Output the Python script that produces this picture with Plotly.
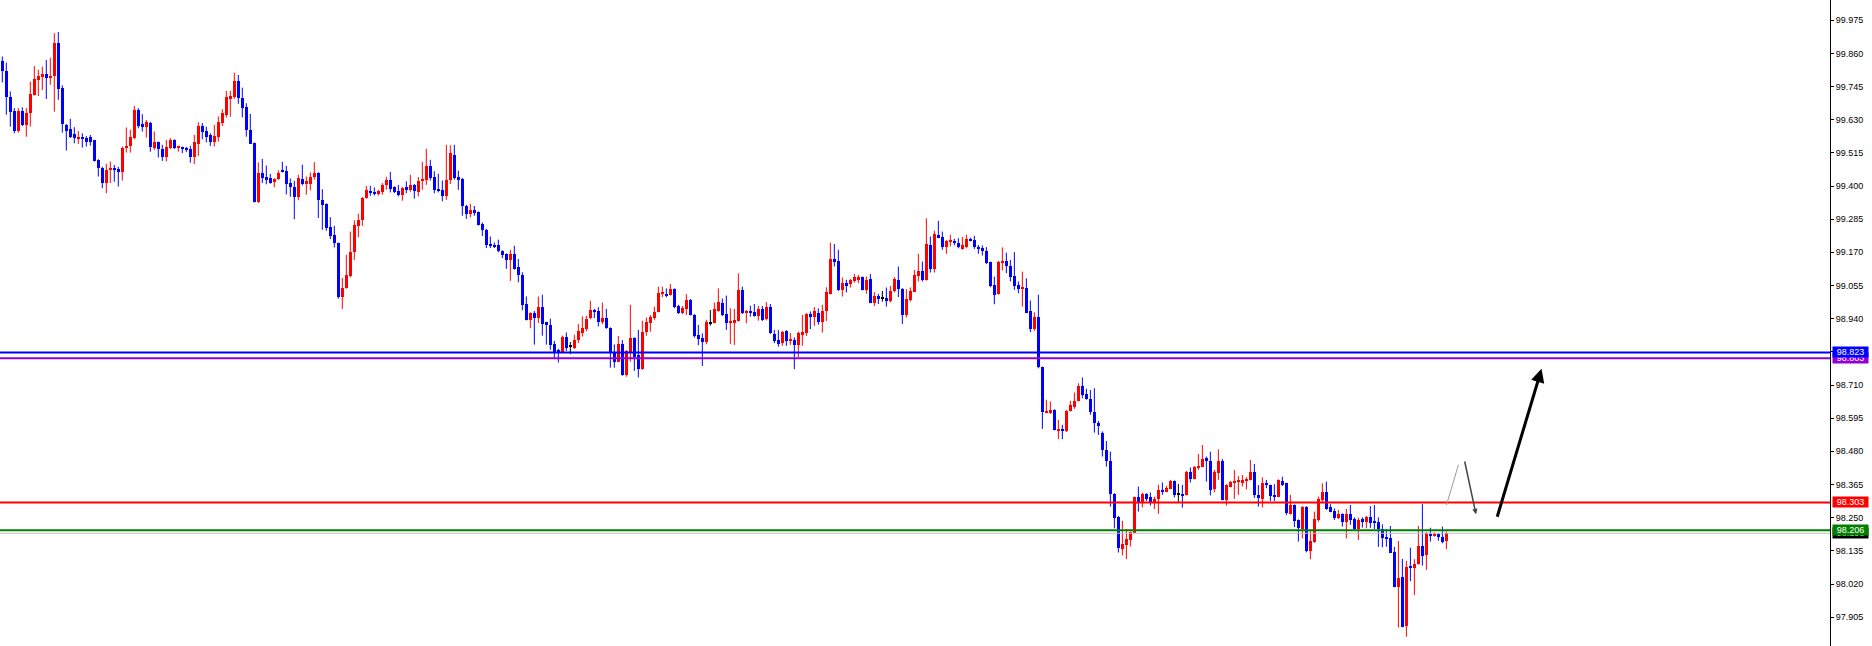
import plotly.graph_objects as go

# ---------------- data (candle index, OHLC) ----------------
opens = [
99.832, 99.800, 99.707, 99.660, 99.592, 99.660, 99.612, 99.652, 99.716, 99.768,
99.777, 99.789, 99.773, 99.780, 99.897, 99.740, 99.612, 99.598, 99.581, 99.565,
99.571, 99.568, 99.571, 99.558, 99.491, 99.464, 99.412, 99.454, 99.464, 99.459,
99.447, 99.532, 99.540, 99.566, 99.664, 99.615, 99.604, 99.620, 99.533, 99.553,
99.528, 99.502, 99.532, 99.560, 99.533, 99.536, 99.530, 99.530, 99.499, 99.547,
99.608, 99.591, 99.576, 99.553, 99.571, 99.620, 99.647, 99.702, 99.709, 99.765,
99.704, 99.673, 99.595, 99.548, 99.343, 99.445, 99.432, 99.428, 99.414, 99.424,
99.456, 99.452, 99.411, 99.397, 99.363, 99.424, 99.408, 99.408, 99.432, 99.446,
99.352, 99.338, 99.258, 99.231, 99.202, 99.014, 99.048, 99.089, 99.170, 99.262,
99.281, 99.357, 99.383, 99.380, 99.372, 99.379, 99.402, 99.422, 99.397, 99.381,
99.370, 99.395, 99.387, 99.402, 99.380, 99.416, 99.422, 99.468, 99.433, 99.390,
99.387, 99.367, 99.422, 99.508, 99.433, 99.425, 99.331, 99.304, 99.318, 99.311,
99.269, 99.248, 99.200, 99.196, 99.194, 99.175, 99.165, 99.144, 99.165, 99.118,
99.090, 98.992, 98.936, 98.958, 98.942, 98.979, 98.927, 98.919, 98.853, 98.832,
98.824, 98.876, 98.844, 98.840, 98.865, 98.892, 98.904, 98.941, 98.969, 98.967,
98.927, 98.942, 98.907, 98.823, 98.791, 98.851, 98.745, 98.826, 98.872, 98.814,
98.766, 98.893, 98.926, 98.944, 98.964, 99.028, 99.026, 99.021, 99.042, 98.984,
98.961, 98.973, 99.005, 98.954, 98.884, 98.872, 98.858, 98.924, 98.926, 98.967,
98.996, 98.955, 98.926, 98.926, 98.932, 99.040, 98.959, 98.967, 98.963, 98.949,
98.974, 98.939, 98.982, 98.887, 98.867, 98.855, 98.898, 98.861, 98.867, 98.849,
98.884, 98.892, 98.957, 98.947, 98.959, 98.930, 98.965, 99.026, 99.147, 99.140,
99.038, 99.065, 99.060, 99.071, 99.075, 99.084, 99.040, 99.078, 98.996, 99.017,
99.011, 99.011, 99.002, 99.036, 99.075, 99.043, 98.953, 99.005, 99.034, 99.088,
99.106, 99.075, 99.196, 99.113, 99.231, 99.223, 99.190, 99.210, 99.211, 99.202,
99.182, 99.188, 99.217, 99.213, 99.189, 99.184, 99.176, 99.135, 99.057, 99.025,
99.138, 99.140, 99.124, 99.088, 99.057, 99.046, 99.048, 98.967, 98.905, 98.947,
98.772, 98.615, 98.612, 98.624, 98.552, 98.557, 98.549, 98.620, 98.635, 98.655,
98.707, 98.679, 98.662, 98.618, 98.580, 98.545, 98.485, 98.447, 98.332, 98.254,
98.142, 98.156, 98.173, 98.198, 98.320, 98.306, 98.332, 98.323, 98.306, 98.314,
98.346, 98.340, 98.350, 98.377, 98.331, 98.332, 98.329, 98.410, 98.384, 98.424,
98.427, 98.456, 98.448, 98.349, 98.406, 98.448, 98.312, 98.358, 98.371, 98.375,
98.369, 98.377, 98.381, 98.410, 98.329, 98.315, 98.371, 98.363, 98.329, 98.323,
98.378, 98.369, 98.263, 98.294, 98.242, 98.211, 98.288, 98.136, 98.167, 98.242,
98.311, 98.338, 98.286, 98.274, 98.250, 98.263, 98.234, 98.263, 98.244, 98.210,
98.244, 98.236, 98.254, 98.240, 98.236, 98.211, 98.184, 98.181, 98.131, 98.011,
98.043, 97.874, 98.084, 98.077, 98.089, 98.152, 98.121, 98.193, 98.190, 98.193,
98.184, 98.169,
]

highs = [
99.849, 99.828, 99.728, 99.670, 99.670, 99.673, 99.670, 99.762, 99.816, 99.803,
99.814, 99.837, 99.845, 99.930, 99.934, 99.749, 99.615, 99.633, 99.604, 99.591,
99.583, 99.573, 99.577, 99.560, 99.493, 99.467, 99.477, 99.485, 99.473, 99.467,
99.537, 99.603, 99.595, 99.678, 99.670, 99.649, 99.629, 99.623, 99.589, 99.554,
99.543, 99.560, 99.566, 99.562, 99.540, 99.537, 99.536, 99.539, 99.577, 99.621,
99.618, 99.606, 99.583, 99.612, 99.641, 99.666, 99.730, 99.730, 99.793, 99.785,
99.741, 99.687, 99.650, 99.551, 99.482, 99.494, 99.471, 99.442, 99.427, 99.454,
99.484, 99.470, 99.426, 99.418, 99.439, 99.474, 99.433, 99.447, 99.483, 99.448,
99.389, 99.340, 99.292, 99.262, 99.204, 99.081, 99.162, 99.242, 99.281, 99.304,
99.362, 99.401, 99.401, 99.395, 99.387, 99.410, 99.432, 99.449, 99.399, 99.404,
99.396, 99.416, 99.439, 99.407, 99.431, 99.484, 99.529, 99.491, 99.451, 99.442,
99.419, 99.543, 99.541, 99.543, 99.453, 99.428, 99.335, 99.338, 99.331, 99.312,
99.274, 99.252, 99.225, 99.204, 99.214, 99.177, 99.167, 99.179, 99.193, 99.147,
99.101, 99.017, 98.962, 98.967, 99.017, 99.023, 98.929, 98.940, 98.863, 98.836,
98.881, 98.892, 98.859, 98.884, 98.922, 98.948, 98.950, 99.002, 98.974, 98.980,
98.996, 98.974, 98.910, 98.851, 98.880, 98.866, 98.831, 98.988, 98.875, 98.901,
98.933, 98.944, 98.953, 98.982, 99.051, 99.051, 99.045, 99.060, 99.045, 98.988,
98.984, 99.025, 99.008, 98.956, 98.918, 98.889, 98.936, 98.970, 98.996, 99.045,
99.010, 99.020, 98.976, 98.974, 99.097, 99.051, 98.970, 98.985, 98.991, 98.984,
98.984, 98.997, 98.991, 98.901, 98.901, 98.898, 98.900, 98.890, 98.875, 98.895,
98.953, 98.959, 98.965, 98.980, 98.976, 98.988, 99.049, 99.204, 99.199, 99.179,
99.083, 99.075, 99.078, 99.095, 99.092, 99.086, 99.086, 99.095, 99.032, 99.026,
99.036, 99.048, 99.054, 99.084, 99.121, 99.046, 99.042, 99.048, 99.109, 99.165,
99.138, 99.288, 99.225, 99.245, 99.279, 99.242, 99.213, 99.231, 99.217, 99.219,
99.223, 99.231, 99.221, 99.227, 99.196, 99.194, 99.188, 99.138, 99.086, 99.140,
99.187, 99.169, 99.144, 99.171, 99.069, 99.103, 99.080, 99.003, 98.962, 99.023,
98.774, 98.659, 98.653, 98.626, 98.589, 98.572, 98.624, 98.655, 98.684, 98.716,
98.736, 98.697, 98.693, 98.699, 98.586, 98.549, 98.516, 98.479, 98.335, 98.256,
98.239, 98.211, 98.202, 98.323, 98.358, 98.337, 98.335, 98.337, 98.323, 98.364,
98.372, 98.360, 98.381, 98.379, 98.367, 98.364, 98.412, 98.424, 98.429, 98.471,
98.502, 98.462, 98.479, 98.416, 98.487, 98.453, 98.366, 98.377, 98.415, 98.394,
98.398, 98.390, 98.450, 98.436, 98.363, 98.390, 98.381, 98.365, 98.366, 98.383,
98.392, 98.371, 98.329, 98.296, 98.244, 98.290, 98.290, 98.207, 98.271, 98.323,
98.369, 98.375, 98.297, 98.282, 98.277, 98.265, 98.280, 98.294, 98.251, 98.250,
98.251, 98.256, 98.290, 98.294, 98.251, 98.227, 98.211, 98.221, 98.149, 98.169,
98.107, 98.100, 98.146, 98.106, 98.221, 98.297, 98.200, 98.215, 98.199, 98.196,
98.219, 98.202,
]

lows = [
99.759, 99.647, 99.606, 99.583, 99.585, 99.608, 99.571, 99.606, 99.714, 99.712,
99.733, 99.702, 99.751, 99.658, 99.699, 99.585, 99.523, 99.566, 99.548, 99.546,
99.533, 99.537, 99.540, 99.485, 99.433, 99.392, 99.375, 99.410, 99.415, 99.398,
99.419, 99.516, 99.516, 99.562, 99.600, 99.589, 99.568, 99.519, 99.525, 99.499,
99.487, 99.485, 99.528, 99.528, 99.519, 99.514, 99.517, 99.481, 99.476, 99.504,
99.562, 99.551, 99.539, 99.537, 99.554, 99.608, 99.637, 99.640, 99.702, 99.685,
99.638, 99.571, 99.546, 99.343, 99.341, 99.410, 99.406, 99.408, 99.396, 99.421,
99.447, 99.371, 99.363, 99.285, 99.351, 99.402, 99.370, 99.385, 99.422, 99.289,
99.248, 99.245, 99.216, 99.187, 99.009, 98.974, 99.044, 99.083, 99.144, 99.222,
99.262, 99.356, 99.366, 99.367, 99.367, 99.370, 99.387, 99.378, 99.375, 99.364,
99.349, 99.375, 99.380, 99.356, 99.364, 99.387, 99.404, 99.419, 99.375, 99.378,
99.347, 99.352, 99.407, 99.422, 99.387, 99.297, 99.286, 99.291, 99.297, 99.263,
99.227, 99.185, 99.185, 99.185, 99.170, 99.150, 99.113, 99.071, 99.110, 99.066,
98.969, 98.934, 98.907, 98.850, 98.925, 98.881, 98.850, 98.832, 98.803, 98.788,
98.822, 98.828, 98.817, 98.835, 98.855, 98.878, 98.896, 98.938, 98.942, 98.913,
98.921, 98.905, 98.770, 98.770, 98.790, 98.742, 98.739, 98.791, 98.759, 98.736,
98.763, 98.881, 98.895, 98.936, 98.962, 99.014, 99.014, 99.020, 98.976, 98.956,
98.956, 98.953, 98.951, 98.874, 98.848, 98.776, 98.851, 98.916, 98.924, 98.964,
98.949, 98.901, 98.852, 98.849, 98.930, 98.956, 98.924, 98.947, 98.947, 98.933,
98.932, 98.934, 98.887, 98.855, 98.843, 98.846, 98.846, 98.849, 98.765, 98.807,
98.846, 98.880, 98.904, 98.915, 98.919, 98.892, 98.932, 99.024, 99.121, 99.036,
99.017, 99.031, 99.048, 99.065, 99.063, 99.038, 99.026, 98.994, 98.984, 98.991,
98.999, 98.982, 98.996, 99.031, 99.015, 98.922, 98.944, 98.999, 99.032, 99.069,
99.069, 99.072, 99.100, 99.100, 99.219, 99.179, 99.165, 99.190, 99.194, 99.184,
99.179, 99.184, 99.208, 99.182, 99.165, 99.159, 99.129, 99.049, 98.990, 99.023,
99.107, 99.098, 99.069, 99.040, 99.028, 98.982, 98.959, 98.893, 98.898, 98.768,
98.558, 98.612, 98.610, 98.553, 98.522, 98.522, 98.547, 98.618, 98.627, 98.653,
98.664, 98.659, 98.607, 98.545, 98.537, 98.462, 98.427, 98.288, 98.213, 98.129,
98.119, 98.106, 98.150, 98.196, 98.271, 98.285, 98.308, 98.292, 98.280, 98.263,
98.329, 98.338, 98.349, 98.320, 98.302, 98.285, 98.327, 98.372, 98.383, 98.416,
98.425, 98.375, 98.327, 98.338, 98.381, 98.310, 98.292, 98.355, 98.315, 98.329,
98.358, 98.348, 98.379, 98.319, 98.288, 98.285, 98.352, 98.308, 98.308, 98.321,
98.360, 98.259, 98.261, 98.217, 98.167, 98.178, 98.130, 98.106, 98.163, 98.236,
98.300, 98.277, 98.269, 98.242, 98.245, 98.219, 98.178, 98.225, 98.207, 98.173,
98.216, 98.213, 98.215, 98.211, 98.149, 98.147, 98.149, 98.127, 98.009, 97.869,
97.870, 97.837, 98.030, 97.982, 98.087, 98.084, 98.069, 98.167, 98.184, 98.170,
98.161, 98.141,
]

closes = [
99.800, 99.707, 99.658, 99.592, 99.660, 99.612, 99.652, 99.719, 99.771, 99.780,
99.789, 99.774, 99.783, 99.897, 99.738, 99.614, 99.592, 99.571, 99.568, 99.571,
99.565, 99.554, 99.554, 99.488, 99.464, 99.412, 99.456, 99.463, 99.457, 99.447,
99.532, 99.540, 99.571, 99.664, 99.608, 99.606, 99.622, 99.536, 99.553, 99.528,
99.502, 99.537, 99.560, 99.533, 99.537, 99.528, 99.525, 99.499, 99.551, 99.608,
99.589, 99.569, 99.552, 99.574, 99.622, 99.652, 99.709, 99.712, 99.765, 99.704,
99.672, 99.595, 99.547, 99.345, 99.445, 99.428, 99.421, 99.411, 99.426, 99.445,
99.449, 99.408, 99.395, 99.363, 99.428, 99.408, 99.416, 99.432, 99.446, 99.350,
99.335, 99.254, 99.228, 99.201, 99.014, 99.048, 99.092, 99.172, 99.266, 99.283,
99.358, 99.387, 99.378, 99.372, 99.383, 99.404, 99.422, 99.390, 99.378, 99.370,
99.393, 99.387, 99.404, 99.381, 99.419, 99.426, 99.468, 99.427, 99.387, 99.383,
99.364, 99.422, 99.513, 99.427, 99.422, 99.329, 99.304, 99.318, 99.308, 99.266,
99.246, 99.196, 99.193, 99.189, 99.173, 99.162, 99.144, 99.165, 99.113, 99.090,
98.988, 98.936, 98.959, 98.944, 98.979, 98.922, 98.917, 98.850, 98.826, 98.824,
98.878, 98.838, 98.844, 98.867, 98.896, 98.907, 98.940, 98.971, 98.962, 98.927,
98.944, 98.907, 98.823, 98.791, 98.851, 98.745, 98.828, 98.872, 98.808, 98.766,
98.893, 98.929, 98.946, 98.963, 99.028, 99.030, 99.019, 99.042, 98.982, 98.961,
98.976, 99.005, 98.952, 98.881, 98.870, 98.858, 98.930, 98.924, 98.974, 98.998,
98.953, 98.926, 98.930, 98.936, 99.040, 98.959, 98.967, 98.961, 98.949, 98.974,
98.936, 98.982, 98.890, 98.861, 98.853, 98.893, 98.861, 98.870, 98.849, 98.890,
98.895, 98.956, 98.945, 98.965, 98.928, 98.967, 99.031, 99.147, 99.138, 99.038,
99.065, 99.054, 99.075, 99.083, 99.083, 99.040, 99.075, 98.996, 99.017, 99.009,
99.011, 99.003, 99.036, 99.078, 99.042, 98.953, 99.009, 99.036, 99.092, 99.106,
99.075, 99.199, 99.113, 99.233, 99.221, 99.190, 99.210, 99.213, 99.202, 99.187,
99.194, 99.217, 99.211, 99.188, 99.182, 99.173, 99.132, 99.054, 99.023, 99.138,
99.140, 99.123, 99.086, 99.054, 99.043, 99.048, 98.961, 98.905, 98.947, 98.771,
98.615, 98.618, 98.624, 98.555, 98.559, 98.549, 98.620, 98.641, 98.655, 98.707,
98.676, 98.661, 98.618, 98.578, 98.568, 98.483, 98.445, 98.331, 98.250, 98.144,
98.159, 98.175, 98.199, 98.320, 98.306, 98.332, 98.314, 98.306, 98.314, 98.346,
98.340, 98.354, 98.377, 98.329, 98.331, 98.329, 98.410, 98.384, 98.427, 98.429,
98.454, 98.448, 98.346, 98.410, 98.448, 98.312, 98.364, 98.373, 98.378, 98.381,
98.381, 98.384, 98.410, 98.329, 98.319, 98.371, 98.363, 98.325, 98.321, 98.381,
98.363, 98.267, 98.294, 98.240, 98.213, 98.288, 98.136, 98.169, 98.245, 98.315,
98.340, 98.280, 98.271, 98.250, 98.263, 98.234, 98.263, 98.242, 98.210, 98.242,
98.236, 98.251, 98.233, 98.233, 98.211, 98.181, 98.176, 98.129, 98.011, 98.042,
97.872, 98.080, 98.077, 98.089, 98.152, 98.118, 98.198, 98.186, 98.193, 98.184,
98.167, 98.196,
]

# price axis ticks
tick_values = [99.975, 99.860, 99.745, 99.630, 99.515, 99.400, 99.285, 99.170, 99.055,
               98.940, 98.825, 98.710, 98.595, 98.480, 98.365, 98.250, 98.135, 98.020, 97.905]
tick_labels = ["99.975", "99.860", "99.745", "99.630", "99.515", "99.400", "99.285", "99.170", "99.055",
               "98.940", "98.825", "98.710", "98.595", "98.480", "98.365", "98.250", "98.135", "98.020", "97.905"]

# horizontal levels
level_prices = [98.823, 98.803, 98.303, 98.206]
level_colors = ["#0000FF", "#9400D3", "#FF0000", "#008000"]
bid_price = 98.196

# hand-drawn projection strokes (candle index, price): tail -> head
stroke1 = [(360.9, 98.288), (364.0, 98.433)]
stroke2 = [(365.5, 98.450), (368.4, 98.262)]
stroke3 = [(373.6, 98.248), (384.8, 98.766)]

# ---------------- build figure ----------------
UP, DOWN, DOJI = "#FF0000", "#0000FF", "#000000"
n = len(closes)
idx = list(range(n))

def col(i):
    if closes[i] > opens[i]:
        return UP
    if closes[i] < opens[i]:
        return DOWN
    return DOJI

colors = [col(i) for i in idx]
MIN_BODY = 0.0035
heights = [max(abs(closes[i] - opens[i]), MIN_BODY) for i in idx]
bases = [min(opens[i], closes[i]) - (0 if abs(closes[i] - opens[i]) >= MIN_BODY else MIN_BODY / 2)
         for i in idx]

fig = go.Figure()

for c in (UP, DOWN, DOJI):
    xs, ys = [], []
    for i in idx:
        if colors[i] == c:
            xs += [i, i, None]
            ys += [lows[i], highs[i], None]
    fig.add_trace(go.Scatter(x=xs, y=ys, mode="lines", line=dict(color=c, width=1),
                             hoverinfo="skip", showlegend=False))

fig.add_trace(go.Bar(x=idx, y=heights, base=bases, width=0.75,
                     marker=dict(color=colors, line=dict(width=0)),
                     hoverinfo="skip", showlegend=False))

shapes = [dict(type="line", xref="paper", x0=0, x1=1, yref="y", y0=bid_price, y1=bid_price,
               line=dict(color="#C0C0C0", width=1), layer="above")]
for p, c in zip(level_prices, level_colors):
    shapes.append(dict(type="line", xref="paper", x0=0, x1=1, yref="y", y0=p, y1=p,
                       line=dict(color=c, width=2), layer="above"))

FONT = "Liberation Sans, Arial, sans-serif"
annotations = []
label_order = [(level_prices[1], level_colors[1]), (level_prices[0], level_colors[0]),
               (bid_price, "#000000"), (level_prices[2], level_colors[2]),
               (level_prices[3], level_colors[3])]
for p, c in label_order:
    annotations.append(dict(xref="paper", x=1, xanchor="left", xshift=2, yref="y", y=p,
                            yanchor="middle", text=f"{p:.3f}", showarrow=False,
                            bgcolor=c, font=dict(color="white", size=9, family=FONT),
                            width=35, height=10, borderpad=0, align="center"))

def stroke(pts, color, width, head, size):
    (x0, y0), (x1, y1) = pts
    return dict(x=x1, y=y1, ax=x0, ay=y0, xref="x", yref="y", axref="x", ayref="y",
                text="", showarrow=True, arrowhead=head, arrowsize=size,
                arrowwidth=width, arrowcolor=color, standoff=0, startstandoff=0)

annotations.append(stroke(stroke1, "#9A9A9A", 1, 0, 1))
annotations.append(stroke(stroke2, "#444444", 1.5, 2, 0.7))
annotations.append(stroke(stroke3, "#000000", 3, 2, 0.9))

fig.update_layout(
    width=1872, height=646,
    margin=dict(l=0, r=42, t=0, b=0),
    paper_bgcolor="white", plot_bgcolor="white",
    showlegend=False, bargap=0,
    xaxis=dict(range=[-0.575, 456.9], visible=False, fixedrange=True),
    yaxis=dict(range=[97.805, 100.045], side="right", showgrid=False, zeroline=False,
               showline=True, linecolor="black", linewidth=1,
               ticks="outside", ticklen=3, tickcolor="black",
               tickvals=tick_values, ticktext=tick_labels, automargin=False,
               tickfont=dict(size=9, color="black", family=FONT), fixedrange=True),
    shapes=shapes, annotations=annotations,
    font=dict(family=FONT),
)

fig.write_html("out.html", config={"displayModeBar": False},
               post_script="document.body.style.margin='0';document.body.style.padding='0';"
                           "document.body.style.overflow='hidden';")
